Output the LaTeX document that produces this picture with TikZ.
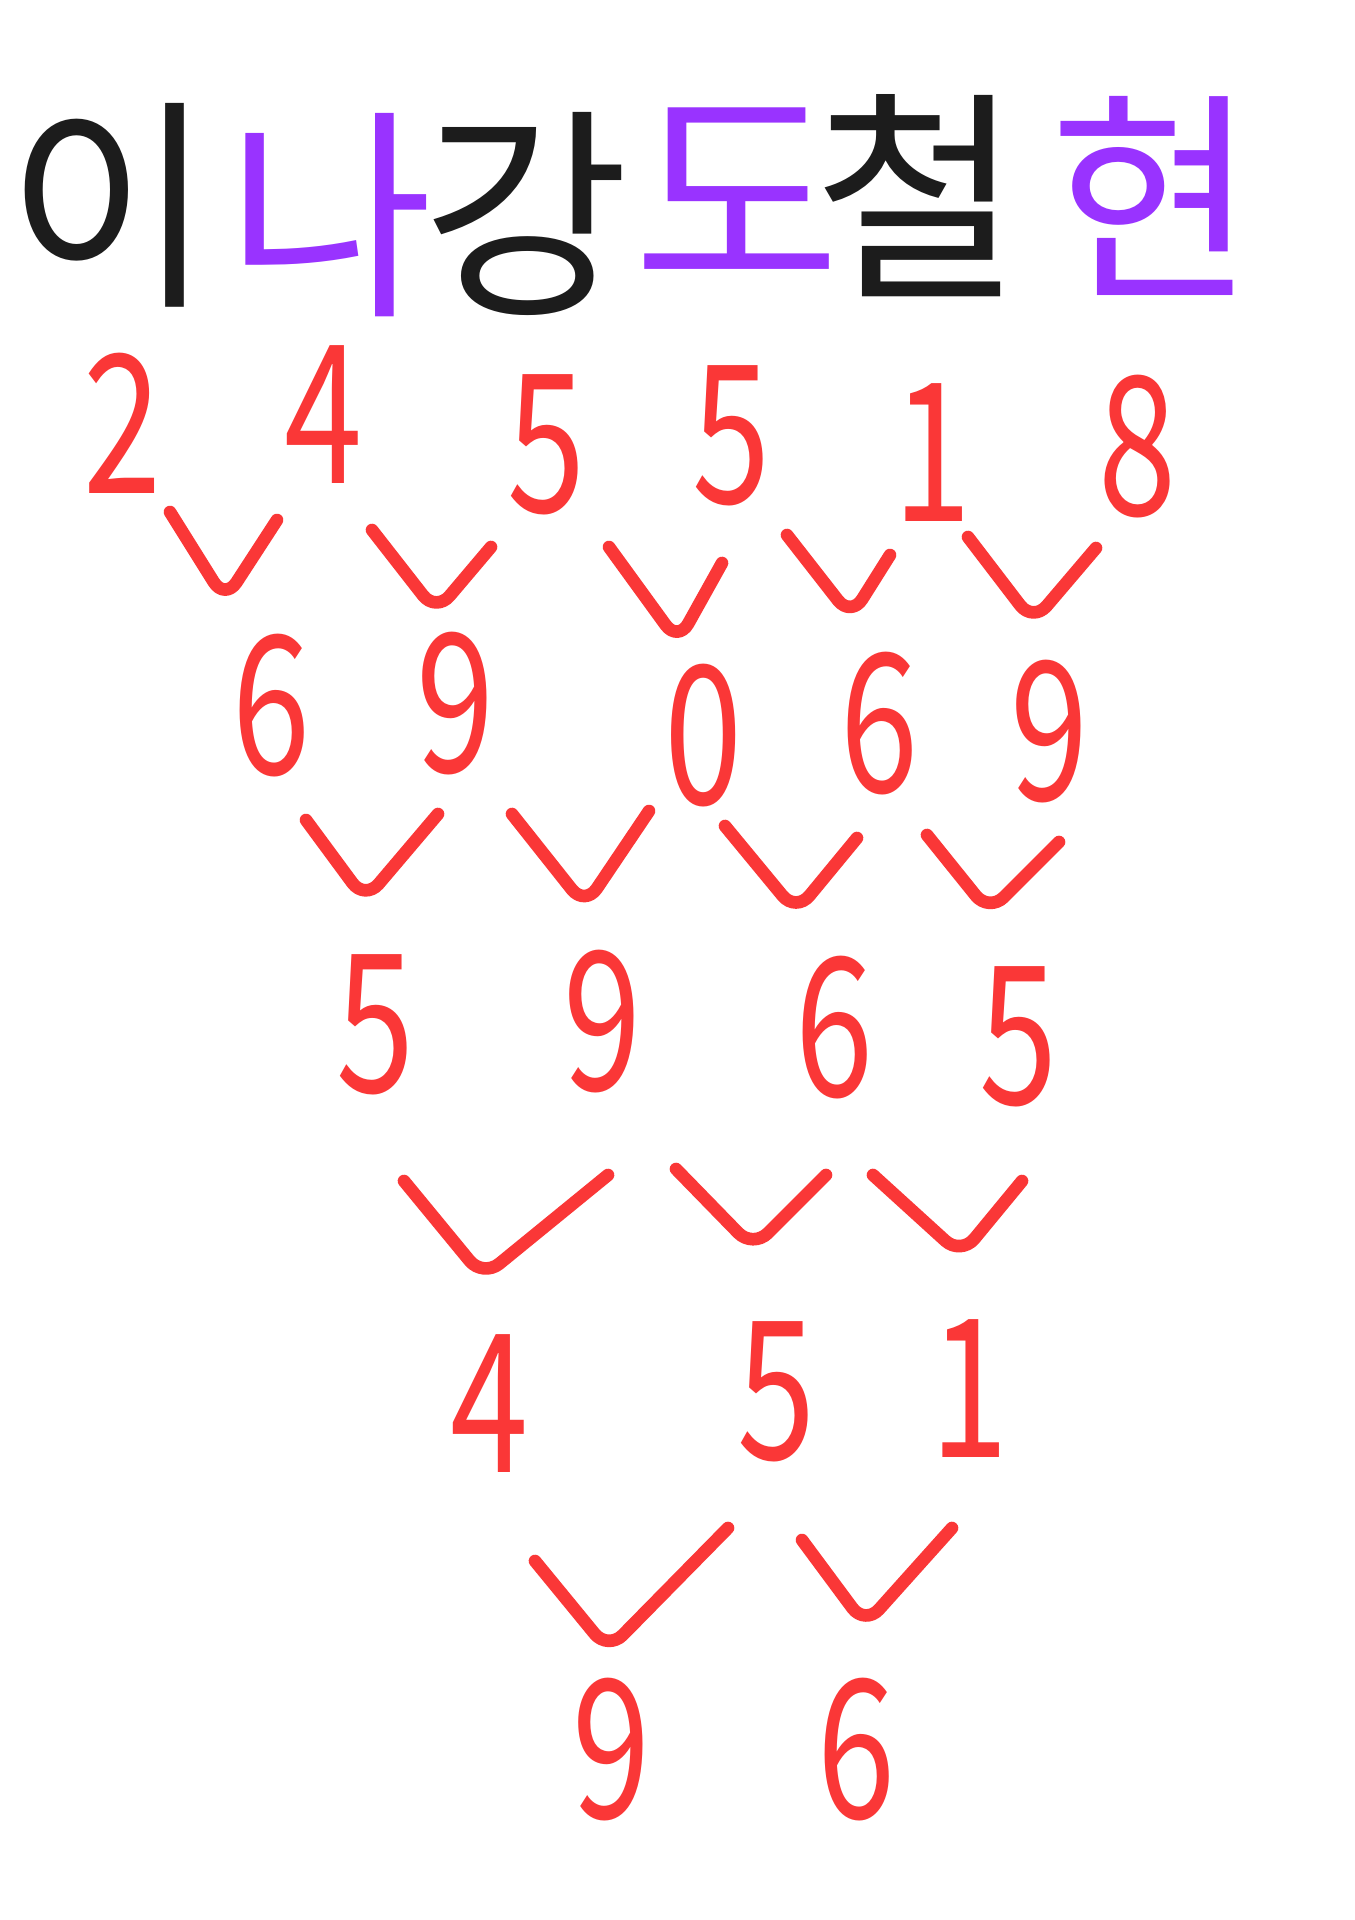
\documentclass[tikz,border=0pt]{standalone}
\usepackage{fontspec}
\setmainfont{Noto Sans CJK KR}
\usepackage{tikz}
\definecolor{myred}{RGB}{250,55,55}
\definecolor{mypurple}{RGB}{153,51,255}
\definecolor{myblack}{RGB}{28,28,28}

\begin{document}
\begin{tikzpicture}[x=0.01cm,y=-0.01cm]
	\fill[white] (0,0) rectangle (1355,1920);
	\useasboundingbox (0,0) rectangle (1355,1920);

	\begin{scope}[every node/.style={inner sep=0pt, font=\fontsize{64}{70}\selectfont}]
	    \node[myblack] (t1) at (110,205) {이};
	    \node[mypurple] (t2) at (330,215) {나};
	    \node[myblack] (t3) at (526,214) {강};
	    \node[mypurple] (t4) at (737,193) {도};
	    \node[myblack] (t5) at (918,196) {철};
	    \node[mypurple] (t6) at (1153,196) {현};
	\end{scope}

	\begin{scope}[every node/.style={inner sep=0pt, text=myred, xscale=0.8, yscale=1.1,
	              font=\fontsize{50}{56}\selectfont}]
	    \node (n11) at (123,423) {2};
	    \node (n12) at (324,415) {4};
	    \node (n13) at (547,445) {5};
	    \node (n14) at (732,436) {5};
	    \node (n15) at (933,453) {1};
	    \node (n16) at (1138,447) {8};
	    \node (n21) at (272,706) {6};
	    \node (n22) at (456,704) {9};
	    \node (n23) at (704,736) {0};
	    \node (n24) at (880,724) {6};
	    \node (n25) at (1050,732) {9};
	    \node (n31) at (376,1025) {5};
	    \node (n32) at (603,1022) {9};
	    \node (n33) at (835,1028) {6};
	    \node (n34) at (1019,1037) {5};
	    \node (n41) at (490,1404) {4};
	    \node (n42) at (777,1392) {5};
	    \node (n43) at (970,1389) {1};
	    \node (n51) at (612,1750) {9};
	    \node (n52) at (857,1750) {6};
	\end{scope}

	\begin{scope}[myred, line width=3.6pt, line cap=round, line join=round, rounded corners=6pt]
	    \foreach \ax/\ay/\bx/\by/\cx/\cy in {
	        170/512/225/600/277/520, 372/530/436/612/491/547,
	        609/547/678/642/722/563, 787/535/851/617/890/555,
	        968/537/1033/622/1096/548,
	        306/820/365/900/438/814, 512/814/585/906/649/811,
	        725/826/796/912/857/838, 927/835/989/912/1059/842,
	        404/1181/483/1277/608/1175, 676/1169/753/1248/826/1175,
	        873/1175/961/1255/1022/1181,
	        535/1561/608/1650/728/1528, 802/1540/865/1625/952/1528}
	        \draw (\ax,\ay) -- (\bx,\by) -- (\cx,\cy);
	\end{scope}
\end{tikzpicture}
\end{document}
